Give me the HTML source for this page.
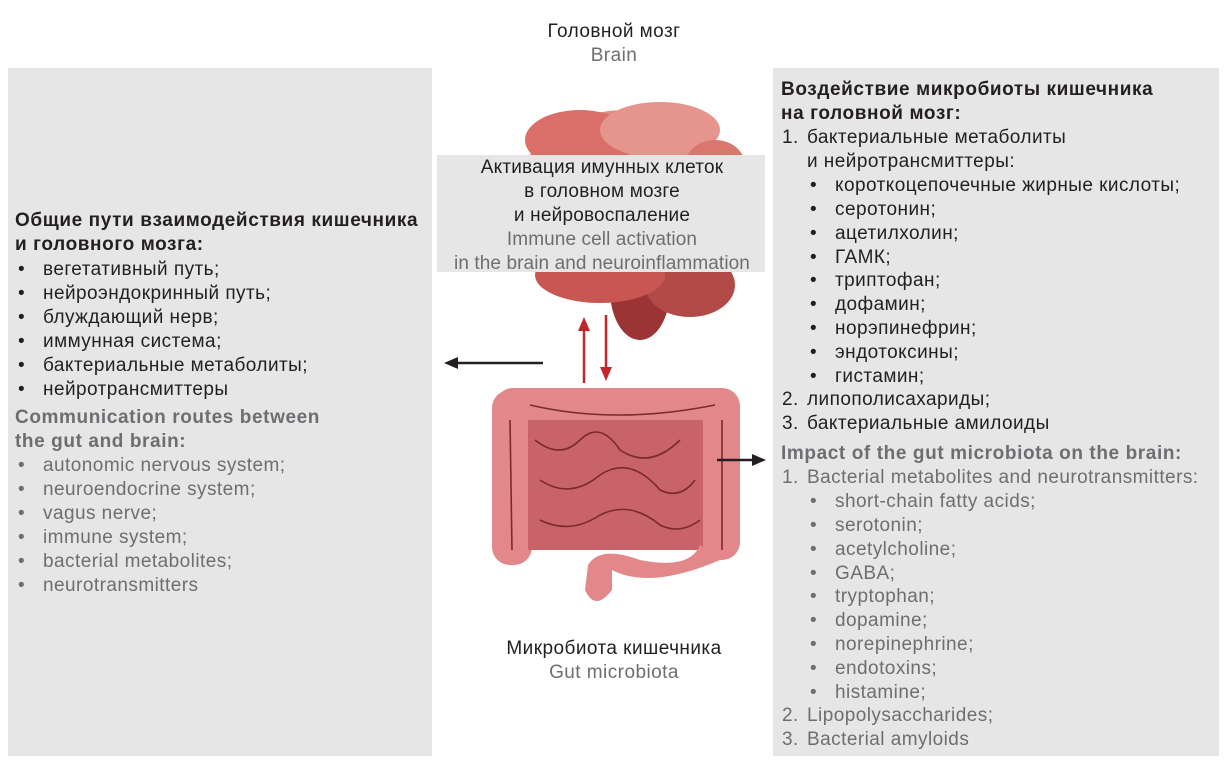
<!DOCTYPE html>
<html><head><meta charset="utf-8"><style>
body{margin:0;width:1226px;height:764px;background:#fff;position:relative;overflow:hidden;font-family:"Liberation Sans","Noto Sans CJK SC",sans-serif;font-size:19px;letter-spacing:0.45px;color:#231f20}
.p{position:absolute;background:#e6e6e6}
.t{position:absolute;white-space:nowrap;line-height:24px;margin-top:2px}
.g{color:#6d6e71}
.b{font-weight:bold;letter-spacing:0.6px}
</style></head><body>
<div class="p" style="left:8px;top:68px;width:424px;height:688px"></div>
<div class="p" style="left:773px;top:68px;width:446px;height:688px"></div>

<div class="t" style="left:0;width:1228px;text-align:center;top:18px">Головной мозг</div>
<div class="t g" style="left:0;width:1228px;text-align:center;top:42px">Brain</div>
<div class="t" style="left:0;width:1228px;text-align:center;top:635px">Микробиота кишечника</div>
<div class="t g" style="left:0;width:1228px;text-align:center;top:659px">Gut microbiota</div>

<svg style="position:absolute;left:0;top:0" width="1226" height="764">
<ellipse cx="625" cy="205" rx="112" ry="95" fill="#e08c84"/>
<ellipse cx="580" cy="140" rx="55" ry="30" fill="#d96f68"/>
<ellipse cx="660" cy="130" rx="60" ry="28" fill="#e6958d"/>
<ellipse cx="715" cy="165" rx="30" ry="25" fill="#d9776f"/>
<ellipse cx="640" cy="290" rx="30" ry="50" fill="#9b3434"/>
<ellipse cx="690" cy="285" rx="45" ry="32" fill="#b24b47"/>
<ellipse cx="600" cy="275" rx="65" ry="28" fill="#c85652"/>
<rect x="495" y="388" width="245" height="36" rx="18" fill="#e2888a"/>
<rect x="492" y="390" width="40" height="175" rx="18" fill="#e2888a"/>
<rect x="700" y="390" width="40" height="170" rx="18" fill="#e2888a"/>
<rect x="528" y="420" width="175" height="130" fill="#c8636a"/>
<path d="M700 545 Q690 570 640 560 Q600 545 588 565 L585 590 Q595 612 612 590 L612 570 Q650 590 720 560Z" fill="#e2888a"/>
<g stroke="#7a2a2a" stroke-width="1.6" fill="none">
<path d="M535 440 Q560 460 580 440 Q600 420 620 450 Q650 470 680 440"/>
<path d="M540 480 Q570 500 600 475 Q630 455 660 490 Q680 500 695 480"/>
<path d="M540 520 Q570 535 600 515 Q630 500 660 525 Q680 535 700 520"/>
<path d="M510 420 L512 550 M722 420 L722 550 M530 405 Q615 425 715 405"/>
</g>
<g stroke="#231f20" stroke-width="2.5" fill="#231f20">
<line x1="543" y1="363" x2="455" y2="363"/><polygon points="444,363 458,357 458,369" stroke="none"/>
<line x1="717" y1="460" x2="755" y2="460"/><polygon points="766,460 752,454 752,466" stroke="none"/>
</g>
<g stroke="#c1272d" stroke-width="2.5" fill="#c1272d">
<line x1="584" y1="383" x2="584" y2="328"/><polygon points="584,317 578,331 590,331" stroke="none"/>
<line x1="606" y1="315" x2="606" y2="370"/><polygon points="606,381 600,367 612,367" stroke="none"/>
</g>
</svg>

<div class="p" style="left:437px;top:155px;width:328px;height:117px"></div>
<div class="t" style="left:437px;width:330px;text-align:center;top:154px;letter-spacing:0.2px">Активация имунных клеток<br>в головном мозге<br>и нейровоспаление</div>
<div class="t g" style="left:437px;width:330px;text-align:center;top:226px;letter-spacing:0.1px">Immune cell activation<br>in the brain and neuroinflammation</div>

<div class="t b" style="left:15px;top:207px">Общие пути взаимодействия кишечника<br>и головного мозга:</div>
<div class="t" style="left:18px;top:256px">•<br>•<br>•<br>•<br>•<br>•</div>
<div class="t" style="left:43px;top:256px">вегетативный путь;<br>нейроэндокринный путь;<br>блуждающий нерв;<br>иммунная система;<br>бактериальные метаболиты;<br>нейротрансмиттеры</div>
<div class="t b g" style="left:15px;top:404px">Communication routes between<br>the gut and brain:</div>
<div class="t g" style="left:18px;top:452px">•<br>•<br>•<br>•<br>•<br>•</div>
<div class="t g" style="left:43px;top:452px">autonomic nervous system;<br>neuroendocrine system;<br>vagus nerve;<br>immune system;<br>bacterial metabolites;<br>neurotransmitters</div>

<div class="t b" style="left:781px;top:76px">Воздействие микробиоты кишечника<br>на головной мозг:</div>
<div class="t" style="left:782px;top:124px;line-height:23.85px">1.<br><br><br><br><br><br><br><br><br><br><br>2.<br>3.</div>
<div class="t" style="left:807px;top:124px;line-height:23.85px">бактериальные метаболиты<br>и нейротрансмиттеры:<br><br><br><br><br><br><br><br><br><br>липополисахариды;<br>бактериальные амилоиды</div>
<div class="t" style="left:810px;top:172px;line-height:23.85px">•<br>•<br>•<br>•<br>•<br>•<br>•<br>•<br>•</div>
<div class="t" style="left:835px;top:172px;line-height:23.85px">короткоцепочечные жирные кислоты;<br>серотонин;<br>ацетилхолин;<br>ГАМК;<br>триптофан;<br>дофамин;<br>норэпинефрин;<br>эндотоксины;<br>гистамин;</div>
<div class="t b g" style="left:781px;top:440px">Impact of the gut microbiota on the brain:</div>
<div class="t g" style="left:782px;top:464px;line-height:23.85px">1.<br><br><br><br><br><br><br><br><br><br>2.<br>3.</div>
<div class="t g" style="left:807px;top:464px;line-height:23.85px">Bacterial metabolites and neurotransmitters:<br><br><br><br><br><br><br><br><br><br>Lipopolysaccharides;<br>Bacterial amyloids</div>
<div class="t g" style="left:810px;top:488px;line-height:23.85px">•<br>•<br>•<br>•<br>•<br>•<br>•<br>•<br>•</div>
<div class="t g" style="left:835px;top:488px;line-height:23.85px">short-chain fatty acids;<br>serotonin;<br>acetylcholine;<br>GABA;<br>tryptophan;<br>dopamine;<br>norepinephrine;<br>endotoxins;<br>histamine;</div>
</body></html>
